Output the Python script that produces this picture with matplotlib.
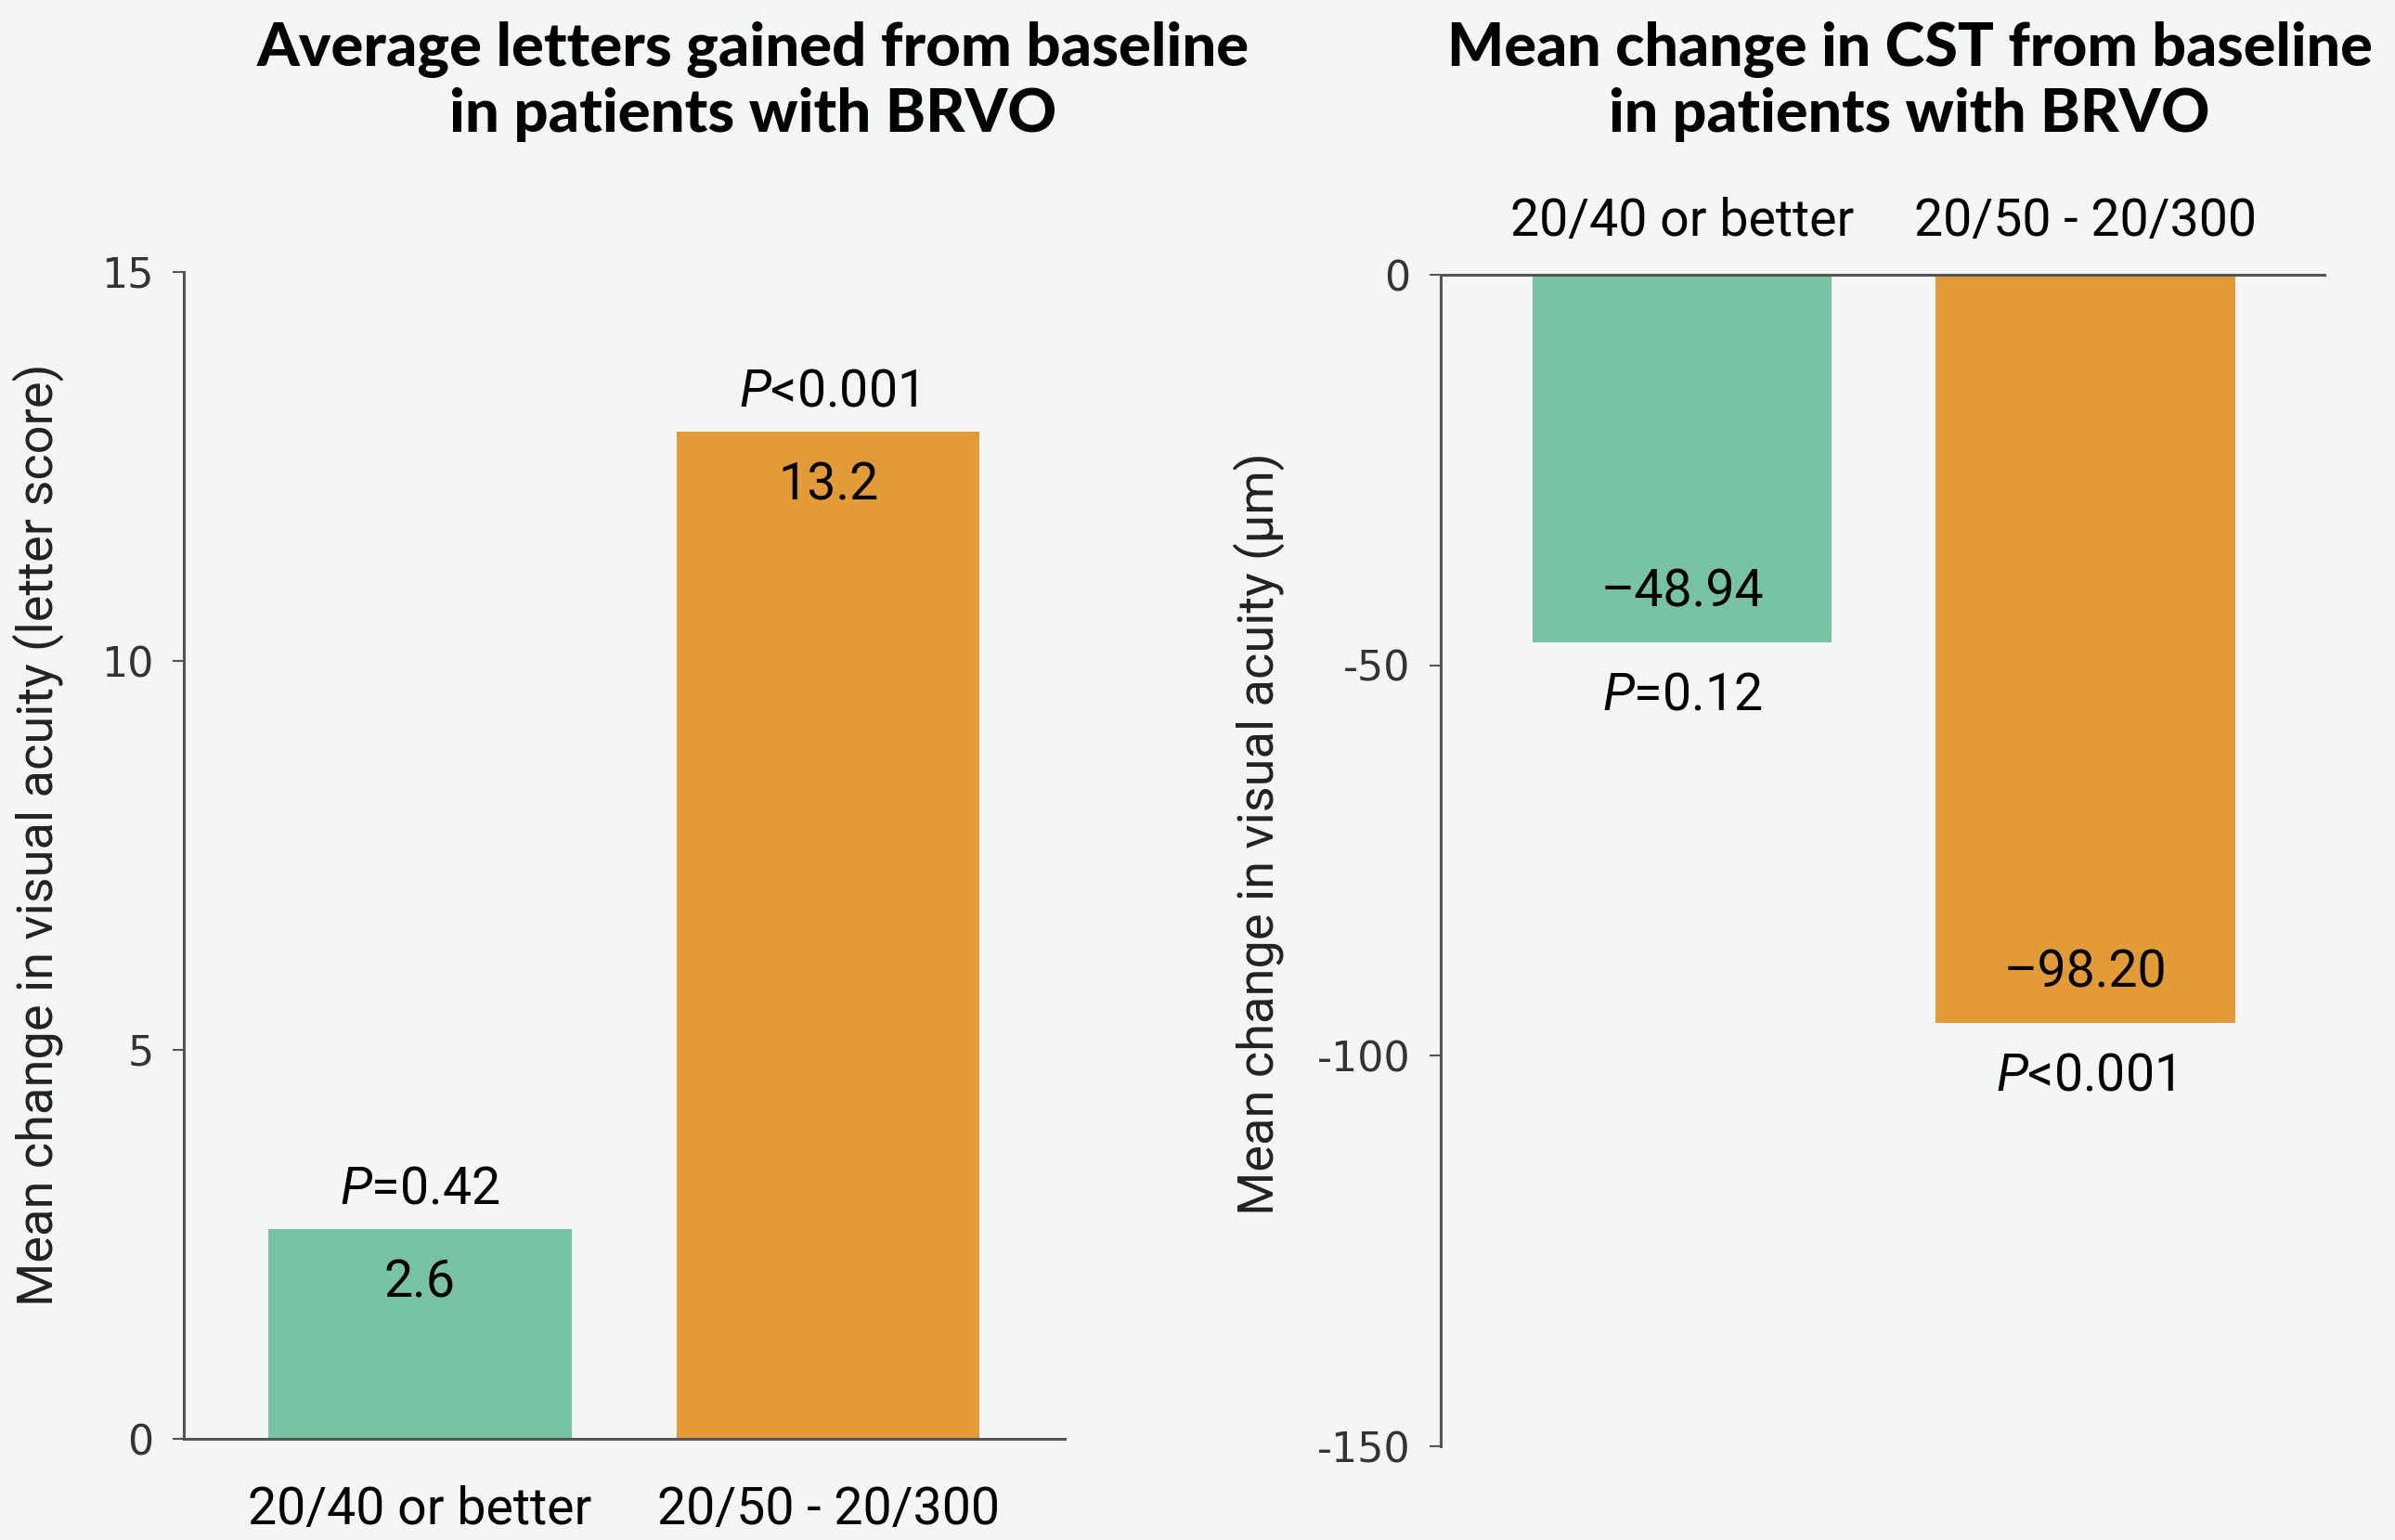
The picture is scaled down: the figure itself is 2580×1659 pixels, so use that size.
import matplotlib
matplotlib.use("Agg")
import matplotlib.pyplot as plt

# ---- data ----
categories = ["20/40 or better", "20/50 - 20/300"]
letters_gained = [2.7, 12.95]          # bar heights as drawn
letters_labels = ["2.6", "13.2"]
letters_p = ["=0.42", "<0.001"]
cst_change = [-47.1, -95.8]            # bar heights as drawn
cst_labels = ["\u201348.94", "\u201398.20"]
cst_p = ["=0.12", "<0.001"]
left_yticks = [0, 5, 10, 15]
right_yticks = [0, -50, -100, -150]

colors = ["#79C3A5", "#E39B38"]
bg = "#F4F5F5"
spine_col = "#555555"

LBL_FONT = "Roboto"
TICK_FONT = "DejaVu Sans"
TITLE_FONT = "Lato"

plt.rcParams["axes.unicode_minus"] = False
plt.rcParams["mathtext.fontset"] = "custom"
plt.rcParams["mathtext.it"] = LBL_FONT + ":italic"
plt.rcParams["mathtext.rm"] = LBL_FONT

fig = plt.figure(figsize=(25.8, 16.59), dpi=100, facecolor=bg)

W, H = 2580, 1659
def rect(x0, x1, ytop, ybot):
    return [x0 / W, 1 - ybot / H, (x1 - x0) / W, (ybot - ytop) / H]

axL = fig.add_axes(rect(197.5, 1147, 293, 1550))
axR = fig.add_axes(rect(1551.6, 2504, 296, 1558))

x = [0, 1]
bw = 0.742
FS = 40
YL = 39

for ax in (axL, axR):
    ax.set_facecolor(bg)
    for s in ax.spines.values():
        s.set_color(spine_col)
        s.set_linewidth(2.2)
    ax.spines["right"].set_visible(False)
    ax.tick_params(axis="y", length=9, width=1.5, color=spine_col,
                   labelsize=32, labelcolor="#333333", pad=14)
    ax.tick_params(axis="x", length=0, labelsize=FS)

# ---- left panel ----
axL.bar(x, letters_gained, width=bw, color=colors)
axL.set_xlim(-0.58, 1.58)
axL.set_ylim(0, 15)
axL.spines["top"].set_visible(False)
axL.set_yticks(left_yticks)
axL.set_yticklabels([str(t) for t in left_yticks], fontfamily=TICK_FONT)
axL.set_xticks(x)
axL.set_xticklabels(categories, fontfamily=LBL_FONT, fontsize=FS)
axL.tick_params(axis="x", pad=36)
axL.set_ylabel("Mean change in visual acuity (letter score)",
               fontfamily=LBL_FONT, fontsize=YL, color="#222222")
axL.yaxis.set_label_coords(-0.135, 0.518)
for xi, v, lab, p in zip(x, letters_gained, letters_labels, letters_p):
    axL.annotate(lab, (xi, v), xytext=(0, -58), textcoords="offset pixels",
                 ha="center", va="center", fontsize=FS, fontfamily=LBL_FONT)
    axL.annotate(r"$P$" + p, (xi, v), xytext=(0, 43), textcoords="offset pixels",
                 ha="center", va="center", fontsize=FS, fontfamily=LBL_FONT)

# ---- right panel ----
axR.bar(x, cst_change, width=bw, color=colors)
axR.set_xlim(-0.60, 1.593)
axR.set_ylim(-150, 0)
axR.spines["bottom"].set_visible(False)
axR.xaxis.set_ticks_position("top")
axR.xaxis.set_label_position("top")
axR.set_yticks(right_yticks)
axR.set_yticklabels([str(t) for t in right_yticks], fontfamily=TICK_FONT)
axR.set_xticks(x)
axR.set_xticklabels(categories, fontfamily=LBL_FONT, fontsize=FS)
axR.tick_params(axis="x", pad=22)
axR.set_ylabel("Mean change in visual acuity (\u03bcm)",
               fontfamily=LBL_FONT, fontsize=YL, color="#222222")
axR.yaxis.set_label_coords(-0.176, 0.523)
for xi, v, lab, p in zip(x, cst_change, cst_labels, cst_p):
    axR.annotate(lab, (xi, v), xytext=(0, 54), textcoords="offset pixels",
                 ha="center", va="center", fontsize=FS, fontfamily=LBL_FONT)
    axR.annotate(r"$P$" + p, (xi, v), xytext=(0, -57), textcoords="offset pixels",
                 ha="center", va="center", fontsize=FS, fontfamily=LBL_FONT)

# ---- titles ----
fig.text(811 / W, 1 - 88 / H, "Average letters gained from baseline\nin patients with BRVO",
         ha="center", va="center", fontsize=47, fontweight="black",
         fontfamily=TITLE_FONT, linespacing=1.2)
fig.text(2057 / W, 1 - 88 / H, "Mean change in CST from baseline\nin patients with BRVO",
         ha="center", va="center", fontsize=46.5, fontweight="black",
         fontfamily=TITLE_FONT, linespacing=1.2)

fig.savefig("out.png", dpi=100, facecolor=bg)
